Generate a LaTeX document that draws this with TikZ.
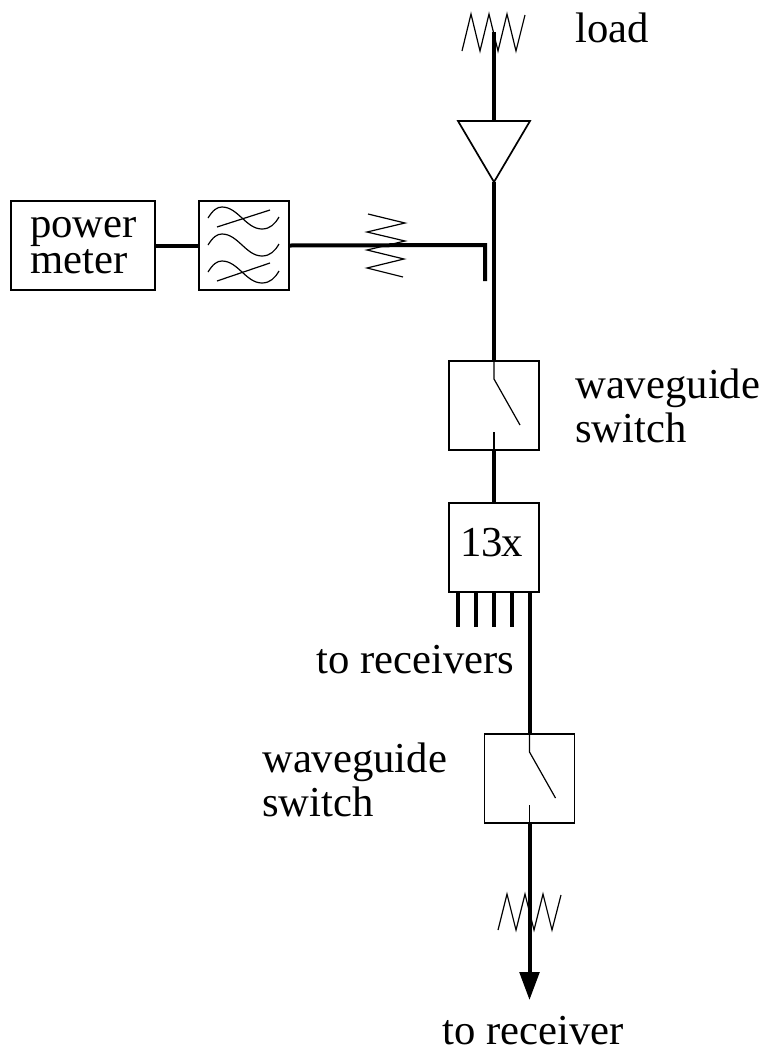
\documentclass[tikz,border=0pt]{standalone}
\usepackage{fontspec}
\setmainfont{Liberation Serif}
\usetikzlibrary{positioning}
\usetikzlibrary{shapes.geometric}
\usetikzlibrary{arrows.meta}
\tikzset{
	guide/.style={draw, line width=4pt},
	thinline/.style={draw, line width=1.2pt},
	blockbox/.style={
		rectangle,
		draw=black, line width=1.7pt,
		minimum width=90pt,
		minimum height=89pt,
		inner sep=0pt,
		outer sep=0pt,
		align=center},
	taper/.style={
		isosceles triangle,
		isosceles triangle apex angle=61,
		isosceles triangle stretches,
		shape border rotate=-90,
		draw=black, line width=1.7pt,
		minimum width=72pt,
		minimum height=61pt,
		inner sep=0pt,
		outer sep=0pt},
	label/.style={align=left, inner sep=0pt, anchor=base west},
}

\begin{document}
\begin{tikzpicture}
	[x=1pt,y=-1pt,node distance=53pt,
	font=\fontsize{42.7}{44}\selectfont]
	\useasboundingbox (0,0) rectangle (764,1053);
	% waveguide run
	\node[blockbox] (sw1) at (494,405.5) { };
	\node[blockbox, below=of sw1, text depth=10pt] (mux) {13\kern-2pt x\kern5pt};
	\node[blockbox] (sw2) at (529.5,778.5) { };
	\node[taper, anchor=apex] (horn) at (494,182) { };
	\coordinate (top) at (494,32);
	\coordinate (out) at (529.5,1000);
	% power monitor
	\node[blockbox, minimum width=144pt] (meter) at (83,245.5) { };
	\node[blockbox, right=44pt of meter] (filter) { };
	\coordinate (bend) at (485,245);
	\coordinate (stub) at (485,281);
	% labels
	\node[label] (metertxt) at (30,273.5) {power\\[-8pt]meter};
	\node[label] (loadtxt) at (575,42) {load};
	\node[label] (sw1txt) at (575,442.5) {waveguide\\switch};
	\node[label] (rectxt) at (316,673) {to receivers};
	\node[label] (sw2txt) at (262,816) {waveguide\\switch};
	\node[label] (outtxt) at (442,1044.5) {to receiver};

	\draw[guide] (top) -- (horn.lower side);
	\draw[guide] (horn.apex) -- (sw1.north);
	\draw[guide] (sw1.south) -- (mux.north);
	\draw[guide] (meter.east |- filter.west) -- (filter.west);
	\draw[guide] (filter.east) -- (bend) -- (stub);
	\foreach \dx in {-36,-18,0,18}
		\draw[guide] ([xshift=\dx pt]mux.south) -- ++(0,35);
	\draw[guide] ([xshift=35.5pt]mux.south) -- (sw2.north);
	\draw[guide, -{Triangle[width=19.5pt,length=28pt]}] (sw2.south) -- (out);

	% switches
	\foreach \sw in {sw1,sw2} {
		\draw[thinline] (\sw.north) -- ++(0,18) -- ++(26,46);
		\draw[thinline] (\sw.south) -- ++(0,-18);
	}
	% resistors
	\draw[thinline] (462,51) -- (471,14) -- (480,51) -- (489,14) -- (498,51) -- (507,14) -- (516,51) -- (525,15);
	\draw[thinline] (498,930) -- (507,894) -- (516,930) -- (525,894) -- (534,930) -- (543,894) -- (552,930) -- (561,895);
	\draw[thinline] (368,214) -- (405,223) -- (367,232) -- (405,241) -- (367,250) -- (404,259) -- (367,268) -- (403,277);
	% filter
	\foreach \wy in {218,245,272}
		\draw[thinline] (208,\wy) .. controls (213,\wy-8) and (217,\wy-11) .. (222,\wy-11)
			.. controls (238,\wy-11) and (246,\wy+11) .. (262,\wy+11)
			.. controls (270,\wy+11) and (275,\wy+6) .. (279,\wy-1);
	\draw[thinline] (217,227) -- (270,210);
	\draw[thinline] (217,281) -- (270,263);
\end{tikzpicture}
\end{document}
